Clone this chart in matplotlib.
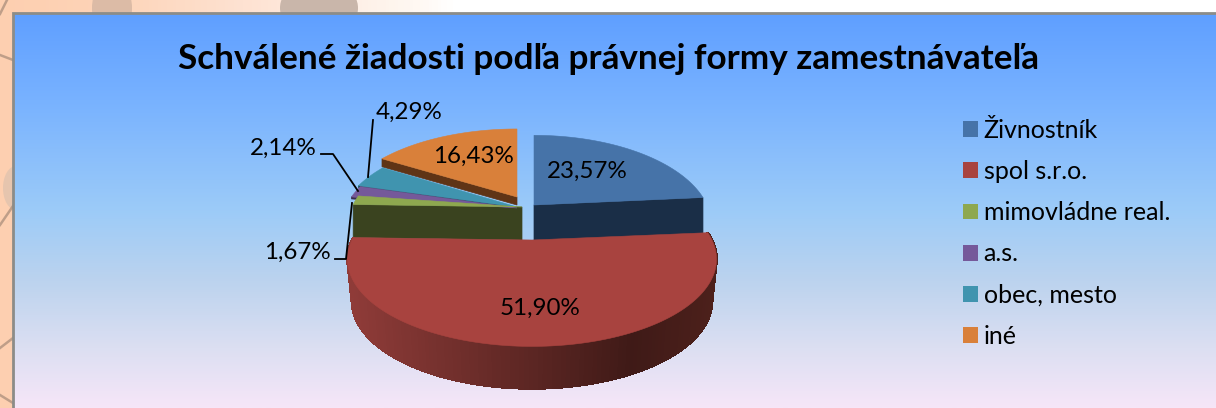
import numpy as np
import matplotlib
matplotlib.use('Agg')
import matplotlib.pyplot as plt
from matplotlib.colors import LinearSegmentedColormap, to_rgb
from matplotlib.patches import Patch, Ellipse, Polygon

# Schvalene ziadosti, 3D exploded pie drawn by hand because matplotlib has no such pie
title = 'Schválené žiadosti podľa právnej formy zamestnávateľa'
categories = ['Živnostník', 'spol s.r.o.', 'mimovládne real.', 'a.s.', 'obec, mesto', 'iné']
shares = [23.57, 51.90, 1.67, 2.14, 4.29, 16.43]
colors = ['#4673a8', '#a8433f', '#8ea84f', '#75599a', '#4094af', '#d9803a']
side_colors = ['#1a2e47', '#4a1e1a', '#3a431f', '#3b2c4e', '#1f4a58', '#5f3416']

plt.rcParams['font.family'] = ['Lato', 'DejaVu Sans']

W, H = 1216, 408
fig = plt.figure(figsize=(W / 100, H / 100), dpi=100)
ax = fig.add_axes([0, 0, 1, 1])

# page behind the chart panel
page = LinearSegmentedColormap.from_list('page', [(0, '#fdcfb0'), (0.09, '#fdd4b8'), (0.2, '#fee2d2'),
                                                  (0.34, '#fff8f2'), (0.372, '#ffffff'), (1, '#ffffff')])
ax.imshow(np.linspace(0, 1, 400).reshape(1, -1), cmap=page, extent=[0, W, H, 0], aspect='auto', zorder=0)
# keep the left strip peach all the way down
ax.fill_between([0, 13], 0, H, color='#fdcfb0', lw=0, zorder=0.5)
ax.add_patch(Ellipse((112, 8), 40, 60, color='#dcbba6', lw=0, zorder=1))
ax.add_patch(Ellipse((319, 8), 78, 60, color='#c9b6aa', lw=0, zorder=1))
ax.add_patch(Ellipse((16, 188), 26, 44, color='#e6c5ae', lw=0, zorder=1))
for xs, ys in [([0, 13], [55, 60]), ([0, 13], [225, 206]), ([0, 13], [348, 338]),
               ([0, 13], [395, 403]), ([0, 7], [14, 0])]:
    ax.plot(xs, ys, color='#a58a78', lw=1.8, alpha=0.7, zorder=1.5)

# chart panel with its vertical gradient
panel = LinearSegmentedColormap.from_list('panel', [(0, '#5f9fff'), (0.22, '#78b2ff'), (0.5, '#9ccbf8'),
                                                    (0.68, '#bcd3ee'), (0.85, '#dcdff2'), (1, '#f6e6f8')])
ax.imshow(np.linspace(0, 1, 256).reshape(-1, 1), cmap=panel, extent=[13, W, H, 13], aspect='auto', zorder=2)
ax.plot([13, 13, W], [H, 13, 13], color='#8c8c88', lw=2, zorder=3, solid_joinstyle='miter')
ax.set_xlim(0, W)
ax.set_ylim(H, 0)
ax.axis('off')

ax.text(608, 59, title, ha='center', va='center', fontsize=25.3, fontweight='bold', color='black', zorder=10)

# wedge placement: apex x, apex y, rx, ry, wall depth (explosion moves each one)
placement = {
    0: (534, 205, 173, 85, 36),
    1: (532, 240, 180, 83, 42),
    2: (522, 207, 170, 85, 33),
    3: (517, 208, 172, 85, 2),
    4: (517, 207, 174, 85, 2),
    5: (517, 197, 175, 83, 8),
}
k = 0.22  # perspective, the back of the pie looks smaller

edges = np.concatenate([[0], np.cumsum(shares)]) / np.sum(shares) * 2 * np.pi


def rim(i, theta):
    cx, cy, rx, ry, _ = placement[i]
    w = 1 + k * np.cos(theta)
    return cx + rx * np.sin(theta) / w, cy - ry * np.cos(theta) / w


def mix(c1, c2, t):
    return tuple(np.array(to_rgb(c1)) * (1 - t) + np.array(to_rgb(c2)) * t)


# back pieces first, the red one last
for i in [5, 4, 3, 2, 0, 1]:
    cx, cy, rx, ry, depth = placement[i]
    theta = np.linspace(edges[i], edges[i + 1], 160)
    x, y = rim(i, theta)

    if i == 1:
        # curved outer wall of the big slice, shaded from left to right
        for j in range(len(theta) - 1):
            xm = (x[j] + x[j + 1]) / 2
            if xm < cx + 100:
                wall = mix('#3f1a17', '#8e3b38', (cx + 100 - xm) / (rx + 100))
            else:
                wall = mix('#3f1a17', '#4c201b', (xm - cx - 100) / 80)
            q = [(x[j], y[j]), (x[j + 1], y[j + 1]),
                 (cx + (x[j + 1] - cx) * 0.975, y[j + 1] + depth),
                 (cx + (x[j] - cx) * 0.975, y[j] + depth)]
            ax.add_patch(Polygon(q, closed=True, fc=wall, ec=wall, lw=1.2, zorder=5, antialiased=False))
    else:
        # flat cut side seen from the front
        px, py = rim(i, edges[i + 1] if i == 0 else edges[i])
        ax.add_patch(Polygon([(cx, cy), (px, py), (px, py + depth), (cx, cy + depth)],
                             closed=True, fc=side_colors[i], ec=side_colors[i], lw=0.5, zorder=4 + 0.1 * (6 - i)))

    ax.add_patch(Polygon(np.column_stack([np.r_[cx, x], np.r_[cy, y]]), closed=True,
                         fc=colors[i], ec=colors[i], lw=0.4, zorder=5.5 + 0.1 * (6 - i)))


def label(v):
    return ('%.2f' % v).replace('.', ',') + '%'


# percent labels, inside for the big slices and with leaders for the small ones
label_font = 17.4
ax.text(587, 171, label(shares[0]), ha='center', va='center', fontsize=label_font, zorder=10)
ax.text(540, 308, label(shares[1]), ha='center', va='center', fontsize=label_font, zorder=10)
ax.text(297, 252, label(shares[2]), ha='center', va='center', fontsize=label_font, zorder=10)
ax.text(283, 148, label(shares[3]), ha='center', va='center', fontsize=label_font, zorder=10)
ax.text(409, 112, label(shares[4]), ha='center', va='center', fontsize=label_font, zorder=10)
ax.text(473, 156, label(shares[5]), ha='center', va='center', fontsize=label_font, zorder=10)

for xs, ys in [([335, 346, 352], [259, 259, 203]), ([321, 333, 358], [154, 154, 191]), ([373, 368], [120, 177])]:
    ax.plot(xs, ys, color='black', lw=1.3, zorder=9)

handles = [Patch(fc=c, ec='none', label=n) for c, n in zip(colors, categories)]
leg = ax.legend(handles=handles, loc='upper left', bbox_to_anchor=(953 / W, 1 - 109 / H), frameon=False,
                fontsize=18, handlelength=0.6, handleheight=0.6, handletextpad=0.22,
                labelspacing=0.725, borderaxespad=0, borderpad=0.4)
leg.set_zorder(10)

fig.savefig('out.png', dpi=100)
